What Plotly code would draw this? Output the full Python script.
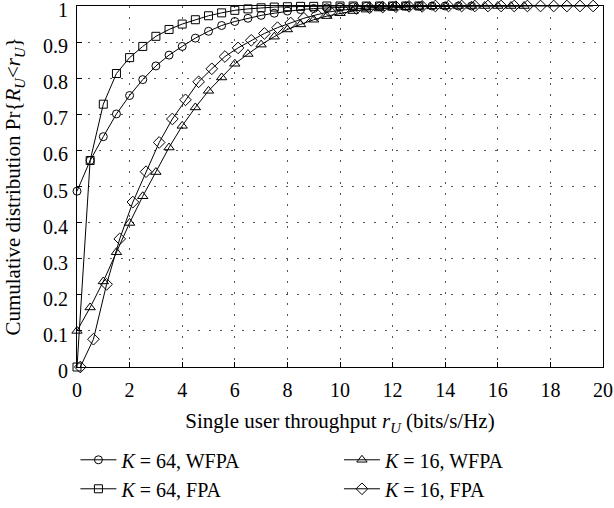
import plotly.graph_objects as go

# K = 64, WFPA (circles)
x_k64_wfpa = [0, 0.5, 1, 1.5, 2, 2.5, 3, 3.5, 4, 4.5, 5, 5.5, 6, 6.5, 7, 7.5, 8, 8.5, 9, 9.5,
              10, 10.5, 11, 11.5, 12, 12.5, 13, 13.5, 14, 14.5, 15]
y_k64_wfpa = [0.487, 0.572, 0.638, 0.701, 0.752, 0.796, 0.834, 0.864, 0.888, 0.911, 0.930, 0.946,
              0.957, 0.966, 0.974, 0.980, 0.986, 0.990, 0.993, 0.995, 0.997, 0.998, 0.999, 0.999,
              1.0, 1.0, 1.0, 1.0, 1.0, 1.0, 1.0]

# K = 64, FPA (squares)
x_k64_fpa = [0, 0.5, 1, 1.5, 2, 2.5, 3, 3.5, 4, 4.5, 5, 5.5, 6, 6.5, 7, 7.5, 8, 8.5, 9, 9.5,
             10, 10.5, 11, 11.5, 12, 12.5, 13]
y_k64_fpa = [0.0, 0.572, 0.728, 0.813, 0.857, 0.888, 0.916, 0.935, 0.950, 0.962, 0.973, 0.981,
             0.988, 0.992, 0.995, 0.997, 0.998, 0.999, 0.999, 1.0, 1.0, 1.0, 1.0, 1.0, 1.0, 1.0, 1.0]

# K = 16, WFPA (triangles)
x_k16_wfpa = [0, 0.5, 1, 1.5, 2, 2.5, 3, 3.5, 4, 4.5, 5, 5.5, 6, 6.5, 7, 7.5, 8, 8.5, 9, 9.5,
              10, 10.5, 11, 11.5, 12, 12.5, 13, 13.5, 14, 14.5, 15, 15.5, 16, 16.5, 17]
y_k16_wfpa = [0.100, 0.165, 0.237, 0.318, 0.399, 0.473, 0.540, 0.608, 0.668, 0.719, 0.765, 0.802,
              0.840, 0.867, 0.893, 0.915, 0.935, 0.949, 0.962, 0.972, 0.980, 0.986, 0.990, 0.993,
              0.995, 0.997, 0.998, 0.999, 0.999, 1.0, 1.0, 1.0, 1.0, 1.0, 1.0]

# K = 16, FPA (diamonds)
x_k16_fpa = [0.125, 0.625, 1.125, 1.625, 2.125, 2.625, 3.125, 3.625, 4.125, 4.625, 5.125, 5.625,
             6.125, 6.625, 7.125, 7.625, 8.125, 8.625, 9.125, 9.625, 10.125, 10.625, 11.125,
             11.625, 12.125, 12.625, 13.125, 13.625, 14.125, 14.625, 15.125, 15.625, 16.125,
             16.625, 17.125, 17.625, 18.125, 18.625, 19.125, 19.625]
y_k16_fpa = [0.0, 0.077, 0.229, 0.355, 0.457, 0.541, 0.622, 0.687, 0.740, 0.790, 0.826, 0.860,
             0.884, 0.905, 0.924, 0.940, 0.953, 0.966, 0.976, 0.984, 0.989, 0.993, 0.995, 0.997,
             0.998, 0.999, 0.999, 1.0, 1.0, 1.0, 1.0, 1.0, 1.0, 1.0, 1.0, 1.0, 1.0, 1.0, 1.0, 1.0]

x_ticks = [0, 2, 4, 6, 8, 10, 12, 14, 16, 18, 20]
y_ticks = [0, 0.1, 0.2, 0.3, 0.4, 0.5, 0.6, 0.7, 0.8, 0.9, 1]
y_tick_labels = ["0", "0.1", "0.2", "0.3", "0.4", "0.5", "0.6", "0.7", "0.8", "0.9", "1"]

FONT = "Liberation Serif"

fig = go.Figure()
series = [
    (x_k64_wfpa, y_k64_wfpa, "circle-open", 8, "<i>K</i> = 64, WFPA", "legend"),
    (x_k64_fpa, y_k64_fpa, "square-open", 8, "<i>K</i> = 64, FPA", "legend"),
    (x_k16_wfpa, y_k16_wfpa, "triangle-up-open", 9, "<i>K</i> = 16, WFPA", "legend2"),
    (x_k16_fpa, y_k16_fpa, "diamond-open", 9, "<i>K</i> = 16, FPA", "legend2"),
]
for xs, ys, sym, sz, name, lg in series:
    fig.add_trace(go.Scatter(
        x=xs, y=ys, mode="lines+markers", name=name, legend=lg,
        line=dict(color="black", width=1),
        marker=dict(symbol=sym, size=sz, color="black", line=dict(color="black", width=1)),
        cliponaxis=False,
    ))

legend_common = dict(
    orientation="v", xanchor="left", yanchor="top", y=-0.203,
    font=dict(family=FONT, size=20), itemwidth=36, tracegroupgap=0,
    bgcolor="rgba(0,0,0,0)", borderwidth=0,
)
fig.update_layout(
    width=614, height=508,
    margin=dict(l=77, r=11, t=6, b=141, autoexpand=False),
    paper_bgcolor="white", plot_bgcolor="white",
    font=dict(family=FONT, size=20, color="black"),
    showlegend=True,
    legend=dict(x=-0.003, **legend_common),
    legend2=dict(x=0.498, **legend_common),
)
fig.update_xaxes(
    range=[0, 20], tickvals=x_ticks, ticktext=[str(v) for v in x_ticks],
    automargin=False,
    showline=True, linecolor="black", linewidth=1, mirror=True,
    ticks="inside", ticklen=5, tickcolor="black", ticklabelstandoff=5,
    ticklabeloverflow="allow", tickfont=dict(family=FONT, size=20),
    showgrid=True, gridcolor="#555555", gridwidth=1, griddash="2px,9px",
    zeroline=False,
    title=dict(text="Single user throughput <i>r</i><sub><i>U</i></sub> (bits/s/Hz)",
               font=dict(family=FONT, size=21), standoff=13),
)
fig.update_yaxes(
    range=[0, 1], tickvals=y_ticks, ticktext=y_tick_labels,
    automargin=False,
    showline=True, linecolor="black", linewidth=1, mirror=True,
    ticks="inside", ticklen=5, tickcolor="black", ticklabelstandoff=4,
    ticklabelshift=4,
    ticklabeloverflow="allow", tickfont=dict(family=FONT, size=20),
    showgrid=True, gridcolor="#555555", gridwidth=1, griddash="2px,9px",
    zeroline=False,
    title=dict(text="Cumulative distribution Pr{<i>R</i><sub><i>U</i></sub>&lt;<i>r</i><sub><i>U</i></sub>}",
               font=dict(family=FONT, size=21), standoff=16),
)

fig.write_html("out.html", config={"displayModeBar": False},
               post_script="document.body.style.margin='0';")
